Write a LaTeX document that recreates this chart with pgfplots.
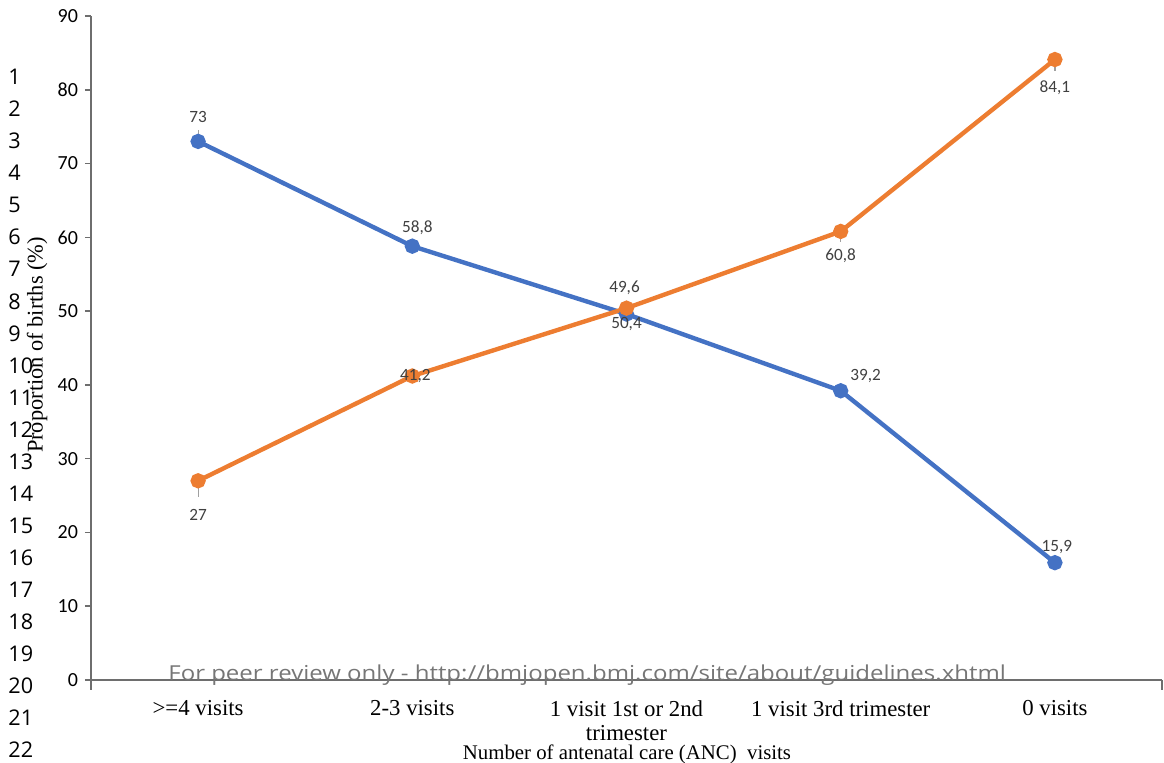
\documentclass[border=0pt]{standalone}
\usepackage{pgfplots}
\pgfplotsset{compat=1.18}
\usepackage{pgfplotstable}
\usepackage{fontspec}
\setmainfont{Liberation Serif}
\newfontfamily\carlito{Carlito}
\newfontfamily\opensans{Open Sans}

\definecolor{serblue}{RGB}{68,114,196}
\definecolor{serorange}{RGB}{237,125,49}
\definecolor{axisgray}{RGB}{110,110,110}
\definecolor{lblgray}{RGB}{64,64,64}
\definecolor{leadgray}{RGB}{160,160,160}
\definecolor{wmgray}{RGB}{118,118,118}

% x = category index, y = proportion of births (%), dx/dy = label offset (pt)
\pgfplotstableread{
x y dx dy
0 73 0 12
1 58.8 2.5 9
2 49.6 -1 13
3 39.2 12.5 7.5
4 15.9 1 8
}\seriesA

\pgfplotstableread{
x y dx dy
0 27 0 -17
1 41.2 1.5 0
2 50.4 0 -8
3 60.8 0 -12
4 84.1 0 -14
}\seriesB

\pgfplotsset{
  valuelabels/.style={
    nodes near coords={\pgfmathprintnumber[use comma,assume math mode=true]{\pgfplotspointmeta}},
    point meta=y,
    visualization depends on={\thisrow{dx} \as \dx},
    visualization depends on={\thisrow{dy} \as \dy},
    every node near coord/.append style={
      font=\carlito\fontsize{8.6}{9}\selectfont, text=lblgray,
      anchor=center, xshift=\dx pt, yshift=\dy pt, inner sep=0pt},
  },
}

\begin{document}
\begin{tikzpicture}
\useasboundingbox (0,0) rectangle (582pt,381.5pt);

\begin{axis}[
  at={(45.5pt,41.5pt)}, anchor=south west,
  scale only axis, width=535.5pt, height=332pt,
  xmin=-0.5, xmax=4.5, ymin=0, ymax=90,
  axis lines=left,
  axis line style={axisgray, line width=0.8pt, -},
  ytick={0,10,...,90},
  tick align=outside, major tick length=3pt,
  y tick style={axisgray, line width=0.8pt},
  yticklabel style={font=\carlito\fontsize{10}{12}\selectfont,
    /pgf/number format/assume math mode=true},
  xtick={0,1,2,3,4},
  x tick style={draw=none},
  xticklabels={{>=4 visits},{2-3 visits},{1 visit 1st or 2nd\\trimester},{1 visit 3rd trimester},{0 visits}},
  xticklabel style={font=\fontsize{11.4}{12}\selectfont, align=center,
    anchor=north, yshift=-6.2pt, inner sep=1pt},
  clip=false,
]
\addplot[serblue, line width=2.2pt, mark=*, mark size=2.7pt, valuelabels]
  table[x=x, y=y] {\seriesA};
\addplot[serorange, line width=2.2pt, mark=*, mark size=2.7pt, valuelabels]
  table[x=x, y=y] {\seriesB};

% short leader lines between some points and their value labels
\addplot[draw=none, mark=none, forget plot,
  error bars/.cd, y dir=both, y explicit, error mark=none,
  error bar style={leadgray, line width=0.6pt}]
  coordinates {
    (0,73) += (0,1.5) -= (0,0)
    (0,27) += (0,0) -= (0,2.2)
    (2,50.4) += (0,0) -= (0,1.3)
    (3,60.8) += (0,0) -= (0,1.5)
    (4,84.1) += (0,0) -= (0,1.5)
  };

% end ticks of the category axis
\draw[axisgray, line width=0.8pt] (rel axis cs:0,0) -- ++(0pt,-5pt);
\draw[axisgray, line width=0.8pt] (rel axis cs:1,0) -- ++(0pt,-5pt);
\end{axis}

% axis titles
\node[rotate=90, font=\fontsize{11.2}{13}\selectfont] at (18.5pt,209pt) {Proportion of births (\%)};
\node[inner sep=0pt, font=\fontsize{10.4}{12}\selectfont] at (313.5pt,4.3pt) {Number of antenatal care (ANC)\ \ visits};

% line numbers in the margin
\foreach \n in {1,...,22}
  \node[anchor=west, inner sep=0pt, font=\opensans\fontsize{10.8}{12}\selectfont]
    at (4pt,{(343-(\n-1)*16.025)*1pt}) {\n};

% review footer
\node[anchor=base west, inner sep=0pt, text=wmgray, font=\opensans\fontsize{10.3}{11}\selectfont]
  at (84pt,41pt) {\scalebox{1.165}[1]{For peer review only - http://bmjopen.bmj.com/site/about/guidelines.xhtml}};
\end{tikzpicture}
\end{document}
